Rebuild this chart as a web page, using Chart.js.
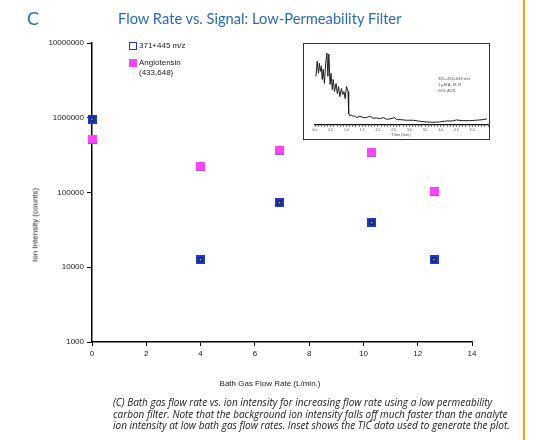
<!DOCTYPE html>
<html>
<head>
<meta charset="utf-8">
<script src="https://cdn.jsdelivr.net/npm/chart.js@4.4.1/dist/chart.umd.min.js"></script>
<style>
  html, body { margin: 0; padding: 0; background: #fff; }
  body { width: 555px; height: 440px; position: relative; overflow: hidden; }
  #main { position: absolute; left: 0; top: 0; }
  .abs { position: absolute; white-space: nowrap; }
  #letter { left: 27px; top: 7px; font: 18px "Lato", sans-serif; color: #2a6cb3; }
  #title { left: 118px; top: 9px; font: 14.7px "Lato", sans-serif; color: #2a6cb3; }
  #orange { left: 523px; top: 0; width: 2px; height: 440px; background: #f4a700; }
  .lab { font: 8px "Liberation Sans", Arial, sans-serif; color: #222; }
  #ytitle { left: 35px; top: 225px; transform: translate(-50%, -50%) rotate(-90deg); }
  #xtitle { left: 270px; top: 383px; transform: translate(-50%, -50%); }
  #caption { left: 113px; top: 397px; font: italic 10px "Open Sans", sans-serif; color: #1a1a1a; line-height: 11.7px; }
  #inset { left: 303px; top: 43px; width: 185px; height: 95px; border: 1.2px solid #333; background: #fff; }
  #insetCanvas { position: absolute; left: 0; top: 0; }
  .tiny { font: 4px "Liberation Sans", Arial, sans-serif; color: #555; }
  .leg-blue { width: 6px; height: 6px; border: 1.5px solid #1133dd; background: #fff; }
  .leg-pink { width: 8px; height: 8px; background: #ff44ff; }
</style>
</head>
<body>
<canvas id="main" width="555" height="440"></canvas>
<div id="letter" class="abs">C</div>
<div id="title" class="abs">Flow Rate vs. Signal: Low-Permeability Filter</div>
<div id="orange" class="abs"></div>
<div id="ytitle" class="abs lab">Ion Intensity (counts)</div>
<div id="xtitle" class="abs lab">Bath Gas Flow Rate (L/min.)</div>

<div class="abs leg-blue" style="left:129px;top:42px;"></div>
<div class="abs lab" style="left:139px;top:41px;">371+445 m/z</div>
<div class="abs leg-pink" style="left:129px;top:59px;"></div>
<div class="abs lab" style="left:139px;top:58px;">Angiotensin</div>
<div class="abs lab" style="left:139px;top:68px;">(433,648)</div>

<div id="inset" class="abs">
  <canvas id="insetCanvas" width="185" height="95"></canvas>
  <div class="abs tiny" style="left:134px;top:32px;">335+433+648 m/z</div>
  <div class="abs tiny" style="left:134px;top:38px;">1 µM A, M, B</div>
  <div class="abs tiny" style="left:134px;top:44px;">20% ACN</div>
  <div class="abs tiny" style="left:97px;top:88px;transform:translateX(-50%);">Time (min)</div>
</div>

<div id="caption" class="abs">(C) Bath gas flow rate vs. ion intensity for increasing flow rate using a low permeability<br>carbon filter. Note that the background ion intensity falls off much faster than the analyte<br>ion intensity at low bath gas flow rates. Inset shows the TIC data used to generate the plot.</div>

<script>
// ---- main chart data ----
const flowRates = [0, 4.0, 6.9, 10.3, 12.6];
const background371445 = [960000, 12600, 73000, 39500, 12600];
const angiotensin = [515000, 221000, 366000, 341000, 102600];
const yTickValues = [1000, 10000, 100000, 1000000, 10000000];
const xTickValues = [0, 2, 4, 6, 8, 10, 12, 14];

// ---- inset TIC data (time in min, relative signal) ----
const ticTime = [0.03,0.07,0.11,0.14,0.17,0.20,0.23,0.26,0.30,0.34,0.38,0.41,0.44,0.48,0.51,0.55,0.58,0.62,0.67,0.71,0.75,0.79,0.84,0.88,0.92,0.96,1.00,1.05,1.07,1.11,1.16,1.22,1.27,1.32,1.43,1.53,1.64,1.74,1.85,1.96,2.06,2.17,2.27,2.38,2.54,2.59,2.70,2.91,3.12,3.33,3.54,3.75,3.96,4.18,4.39,4.49,4.70,4.92,5.13,5.34,5.47];
const ticSignal = [48,63,51,61,53,58,45,55,41,61,71,48,70,40,51,35,45,33,41,31,38,28,36,30,33,26,38,33,11,9,10,8,9.3,7.3,8.7,7.3,7.3,8.7,6.7,7,6.3,7.3,5.7,6,7.3,5.3,5.3,4.7,4.7,3.7,3,2.7,3,4,4,5,4.3,4.3,4.7,5.3,6];
const insetTickLabels = ['0.0','0.5','1.0','1.5','2.0','2.5','3.0','3.5','4.0','4.5','5.0'];

function blueMarker() {
  const c = document.createElement('canvas');
  c.width = 9; c.height = 9;
  const g = c.getContext('2d');
  g.fillStyle = '#1a3ad8'; g.fillRect(0, 0, 9, 9);
  g.fillStyle = '#000'; g.fillRect(2.5, 2.5, 4, 4);
  g.fillStyle = '#bbb'; g.fillRect(3.5, 3.5, 2, 2);
  return c;
}
function pinkMarker() {
  const c = document.createElement('canvas');
  c.width = 9; c.height = 9;
  const g = c.getContext('2d');
  g.fillStyle = '#ff44ff'; g.fillRect(0, 0, 9, 9);
  g.fillStyle = '#b04fb0'; g.fillRect(0, 8, 9, 1);
  return c;
}

const tickFont = { family: '"Liberation Sans", Arial, sans-serif', size: 8 };

new Chart(document.getElementById('main'), {
  type: 'scatter',
  data: {
    datasets: [
      { label: '371+445 m/z', data: flowRates.map((x, i) => ({ x, y: background371445[i] })), pointStyle: blueMarker(), pointRadius: 5, clip: false },
      { label: 'Angiotensin (433,648)', data: flowRates.map((x, i) => ({ x, y: angiotensin[i] })), pointStyle: pinkMarker(), pointRadius: 5, clip: false }
    ]
  },
  options: {
    responsive: false,
    animation: false,
    events: [],
    layout: { padding: { left: 0, right: 83, top: 43, bottom: 50 } },
    plugins: { legend: { display: false }, tooltip: { enabled: false } },
    scales: {
      x: {
        type: 'linear', min: 0, max: 14,
        afterBuildTicks: s => { s.ticks = xTickValues.map(v => ({ value: v })); },
        afterFit: s => { s.height = 48; },
        ticks: { font: tickFont, color: '#222', padding: 3, callback: v => String(v), maxRotation: 0 },
        grid: { drawOnChartArea: false, tickLength: 4, color: '#000', lineWidth: 1 },
        border: { color: '#000', width: 1.5 }
      },
      y: {
        type: 'logarithmic', min: 1000, max: 10000000,
        afterBuildTicks: s => { s.ticks = yTickValues.map(v => ({ value: v })); },
        afterFit: s => { s.width = 92; },
        ticks: { font: tickFont, color: '#222', padding: 3, callback: v => String(v) },
        grid: { drawOnChartArea: false, tickLength: 5, color: '#000', lineWidth: 1 },
        border: { color: '#000', width: 1.5 }
      }
    }
  }
});

new Chart(document.getElementById('insetCanvas'), {
  type: 'line',
  data: {
    datasets: [{ data: ticTime.map((t, i) => ({ x: t, y: ticSignal[i] })), borderColor: '#1e1e1e', borderWidth: 1, pointRadius: 0, tension: 0, fill: false }]
  },
  options: {
    responsive: false,
    animation: false,
    events: [],
    layout: { padding: { left: 11, right: 1, top: 0, bottom: 0 } },
    plugins: { legend: { display: false }, tooltip: { enabled: false } },
    scales: {
      x: {
        type: 'linear', min: 0, max: 5.5,
        afterBuildTicks: s => { const t = []; for (let k = 0; k <= 55; k++) t.push({ value: k / 10 }); s.ticks = t; },
        afterFit: s => { s.height = 14; },
        ticks: { autoSkip: false, maxRotation: 0, font: { family: '"Liberation Sans", Arial, sans-serif', size: 3.5 }, color: '#555', padding: 1,
          callback: (v, i) => (i % 5 === 0 && i <= 50) ? insetTickLabels[i / 5] : '' },
        grid: { drawOnChartArea: false, tickLength: 2, color: '#222', lineWidth: 0.6 },
        border: { color: '#111', width: 1.2 }
      },
      y: { display: false, min: 0, max: 80 }
    }
  }
});
</script>
</body>
</html>
